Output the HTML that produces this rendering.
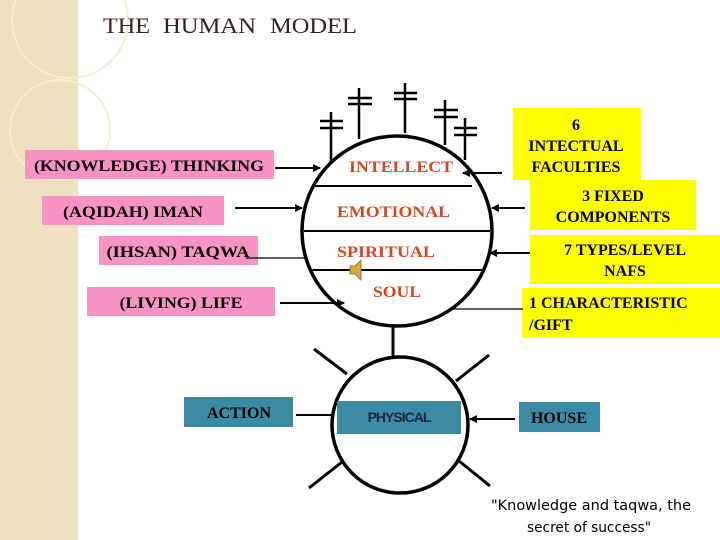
<!DOCTYPE html>
<html><head><meta charset="utf-8"><style>
html,body{margin:0;padding:0;background:#fff;}
svg{display:block;}
.b{font-family:"Liberation Serif",serif;font-weight:bold;}
</style></head><body>
<svg width="720" height="540" viewBox="0 0 720 540" xmlns="http://www.w3.org/2000/svg">
<defs>
<marker id="a" markerWidth="8" markerHeight="8" refX="7" refY="4" orient="auto" markerUnits="userSpaceOnUse"><path d="M0,0 L8,4 L0,8 Z" fill="#000"/></marker>
</defs>
<rect x="0" y="0" width="78" height="540" fill="#efe0bf"/>
<circle cx="70" cy="20" r="58" fill="none" stroke="#f6ecd4" stroke-width="2"/>
<circle cx="60" cy="130" r="50" fill="none" stroke="#f6ecd4" stroke-width="2"/>
<g font-family="Liberation Serif,serif" font-size="22" fill="#3a2020">
<text x="103" y="33" textLength="47" lengthAdjust="spacingAndGlyphs">THE</text>
<text x="163" y="33" textLength="93" lengthAdjust="spacingAndGlyphs">HUMAN</text>
<text x="270" y="33" textLength="87" lengthAdjust="spacingAndGlyphs">MODEL</text>
</g>

<rect x="25" y="150" width="249" height="29" fill="#f993c6"/>
<text x="149" y="171" class="b" font-size="16" text-anchor="middle" textLength="230" lengthAdjust="spacingAndGlyphs">(KNOWLEDGE) THINKING</text>
<rect x="42" y="196" width="182" height="29" fill="#f993c6"/>
<text x="133" y="217" class="b" font-size="16" text-anchor="middle" textLength="140" lengthAdjust="spacingAndGlyphs">(AQIDAH) IMAN</text>
<rect x="99" y="236" width="159" height="29" fill="#f993c6"/>
<text x="178" y="257" class="b" font-size="16" text-anchor="middle" textLength="143" lengthAdjust="spacingAndGlyphs">(IHSAN) TAQWA</text>
<rect x="87" y="287" width="188" height="29" fill="#f993c6"/>
<text x="181" y="308" class="b" font-size="16" text-anchor="middle" textLength="123" lengthAdjust="spacingAndGlyphs">(LIVING) LIFE</text>

<rect x="513" y="108" width="128" height="72" fill="#ffff00"/>
<text class="b" font-size="16" text-anchor="middle"><tspan x="576" y="130">6</tspan><tspan x="576" y="151">INTECTUAL</tspan><tspan x="576" y="172">FACULTIES</tspan></text>
<rect x="530" y="180" width="166" height="50" fill="#ffff00"/>
<text class="b" font-size="16" text-anchor="middle"><tspan x="613" y="201">3 FIXED</tspan><tspan x="613" y="222">COMPONENTS</tspan></text>
<rect x="530" y="235" width="190" height="49" fill="#ffff00"/>
<text class="b" font-size="16" text-anchor="middle"><tspan x="625" y="255">7  TYPES/LEVEL</tspan><tspan x="625" y="276">NAFS</tspan></text>
<rect x="522" y="288" width="198" height="50" fill="#ffff00"/>
<text class="b" font-size="16"><tspan x="529" y="308">1 CHARACTERISTIC</tspan><tspan x="529" y="330">/GIFT</tspan></text>

<rect x="184" y="397" width="109" height="30" fill="#3a8ca4"/>
<text x="239" y="418" class="b" font-size="16" text-anchor="middle">ACTION</text>
<rect x="519" y="402" width="81" height="30" fill="#3a8ca4"/>
<text x="559" y="423" class="b" font-size="16" text-anchor="middle">HOUSE</text>

<g stroke="#000" stroke-width="2.5" fill="none">
<line x1="331" y1="112" x2="331" y2="162"/><line x1="320" y1="121" x2="343" y2="121"/><line x1="320" y1="128" x2="343" y2="128"/>
<line x1="359" y1="88" x2="359" y2="139"/><line x1="348" y1="98" x2="372" y2="98"/><line x1="348" y1="104" x2="372" y2="104"/>
<line x1="405" y1="83" x2="405" y2="133"/><line x1="394" y1="93" x2="417" y2="93"/><line x1="394" y1="99" x2="417" y2="99"/>
<line x1="445" y1="100" x2="445" y2="145"/><line x1="434" y1="110" x2="458" y2="110"/><line x1="434" y1="117" x2="458" y2="117"/>
<line x1="465" y1="118" x2="465" y2="160"/><line x1="454" y1="128" x2="477" y2="128"/><line x1="454" y1="135" x2="477" y2="135"/>
</g>

<circle cx="397" cy="231" r="95" fill="none" stroke="#000" stroke-width="3.5"/>
<g stroke="#000" stroke-width="2">
<line x1="315" y1="186" x2="472" y2="186"/>
<line x1="304" y1="231" x2="490" y2="231"/>
<line x1="312" y1="270" x2="483" y2="270"/>
</g>
<g class="b" font-size="16" fill="#d8461e">
<text x="349" y="172" textLength="104" lengthAdjust="spacingAndGlyphs">INTELLECT</text>
<text x="337" y="217" textLength="113" lengthAdjust="spacingAndGlyphs">EMOTIONAL</text>
<text x="337" y="257" textLength="98" lengthAdjust="spacingAndGlyphs">SPIRITUAL</text>
<text x="373" y="297" textLength="48" lengthAdjust="spacingAndGlyphs">SOUL</text>
</g>
<path d="M350,266 L355,266 L361,260 L361,280 L355,274 L350,274 Z" fill="#d9a93a" stroke="#8a6a20" stroke-width="0.8"/>

<g stroke="#000" stroke-width="2" fill="none">
<line x1="275" y1="168" x2="320" y2="168" marker-end="url(#a)"/>
<line x1="235" y1="208" x2="302" y2="208" marker-end="url(#a)"/>
<line x1="246" y1="258" x2="306" y2="258" stroke-width="1.2"/>
<line x1="280" y1="303" x2="344" y2="303" marker-end="url(#a)"/>
<line x1="502" y1="173" x2="463" y2="173" marker-end="url(#a)"/>
<line x1="525" y1="208" x2="492" y2="208" marker-end="url(#a)"/>
<line x1="530" y1="253" x2="490" y2="253" marker-end="url(#a)"/>
<line x1="451" y1="309" x2="523" y2="309" stroke-width="1.2"/>
<line x1="393" y1="325" x2="393" y2="358" stroke-width="3"/>
<line x1="296" y1="415" x2="334" y2="415"/>
<line x1="515" y1="419" x2="470" y2="419" marker-end="url(#a)"/>
</g>

<circle cx="400" cy="425" r="68" fill="#fff" stroke="#000" stroke-width="3.5"/>
<g stroke="#000" stroke-width="3">
<line x1="314" y1="349" x2="347" y2="374"/>
<line x1="489" y1="355" x2="456" y2="381"/>
<line x1="309" y1="488" x2="342" y2="462"/>
<line x1="459" y1="461" x2="490" y2="486"/>
</g>
<rect x="337" y="401" width="124" height="33" fill="#3a8ca4"/>
<text x="399" y="422" font-family="Liberation Sans,sans-serif" font-size="14" font-weight="bold" text-anchor="middle" letter-spacing="-1" fill="#1a2a3a">PHYSICAL</text>

<text font-family="DejaVu Sans,sans-serif" font-size="14" text-anchor="middle" fill="#000"><tspan x="591" y="510" textLength="200" lengthAdjust="spacingAndGlyphs">"Knowledge and taqwa, the</tspan><tspan x="589" y="532" textLength="124" lengthAdjust="spacingAndGlyphs">secret of success"</tspan></text>
</svg>
</body></html>
